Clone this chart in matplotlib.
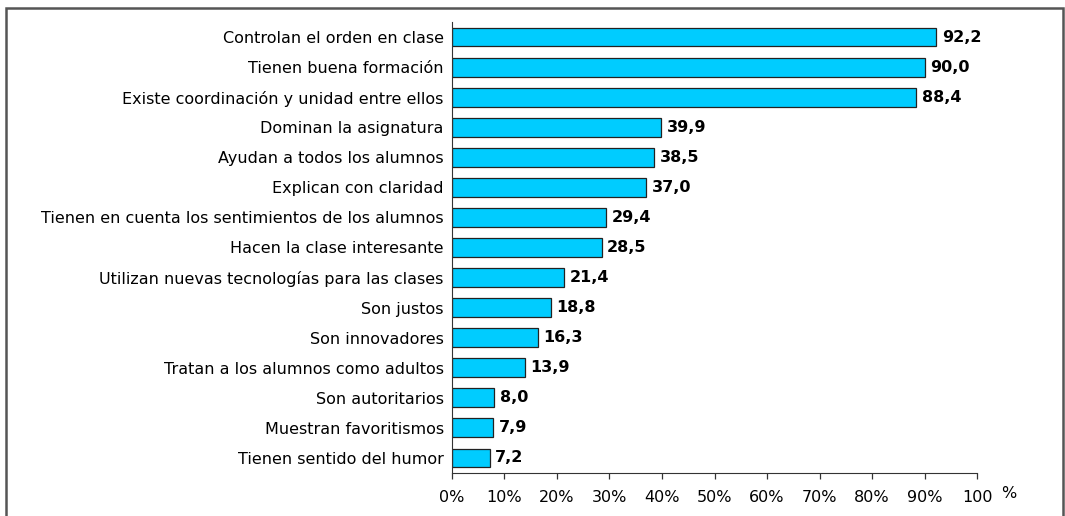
import matplotlib
matplotlib.use("Agg")
import matplotlib.pyplot as plt
from matplotlib.patches import Rectangle

categories = ["Controlan el orden en clase",
              "Tienen buena formación",
              "Existe coordinación y unidad entre ellos",
              "Dominan la asignatura",
              "Ayudan a todos los alumnos",
              "Explican con claridad",
              "Tienen en cuenta los sentimientos de los alumnos",
              "Hacen la clase interesante",
              "Utilizan nuevas tecnologías para las clases",
              "Son justos",
              "Son innovadores",
              "Tratan a los alumnos como adultos",
              "Son autoritarios",
              "Muestran favoritismos",
              "Tienen sentido del humor"]
values = [92.2, 90.0, 88.4, 39.9, 38.5, 37.0, 29.4, 28.5, 21.4, 18.8, 16.3, 13.9, 8.0, 7.9, 7.2]
ticks = [0, 10, 20, 30, 40, 50, 60, 70, 80, 90, 100]
tick_labels = ["0%", "10%", "20%", "30%", "40%", "50%", "60%", "70%", "80%", "90%", "100"]

plt.rcParams['font.family'] = ['DejaVu Sans']
fs = 11.5

fig = plt.figure(figsize=(10.65, 5.16), dpi=100)
ax = fig.add_axes([0.4244, 0.0833, 0.4930, 0.8741])

ypos = list(range(len(categories)))
ax.barh(ypos, values, height=0.63, color='#00CCFF', edgecolor='#222222', linewidth=0.9)

for y, v in zip(ypos, values):
    ax.annotate(f"{v:.1f}".replace('.', ','), xy=(v, y), xytext=(4, 0),
                textcoords='offset points', va='center', ha='left',
                fontsize=fs, fontweight='bold', color='black')

ax.set_xlim(0, 100)
ax.set_ylim(len(categories) - 0.5, -0.5)
ax.set_yticks(ypos)
ax.set_yticklabels(categories, fontsize=fs)
ax.set_xticks(ticks)
ax.set_xticklabels(tick_labels, fontsize=fs)
ax.tick_params(axis='y', length=0, pad=6)
ax.tick_params(axis='x', length=4, width=0.9, color='#333333', pad=8)

for side in ['top', 'right']:
    ax.spines[side].set_visible(False)
ax.spines['left'].set_color('#333333')
ax.spines['bottom'].set_color('#333333')

# the "%" after 100
fig.text(1009 / 1065, 1 - 493 / 516, "%", fontsize=fs, ha='center', va='center')

# border around the chart
fig.patches.append(Rectangle((6 / 1065, -0.05), (1063 - 6) / 1065, 1.05 - 8 / 516,
                             transform=fig.transFigure, fill=False,
                             edgecolor='#555555', linewidth=1.8))

fig.savefig("out.png", dpi=100, facecolor='white')
